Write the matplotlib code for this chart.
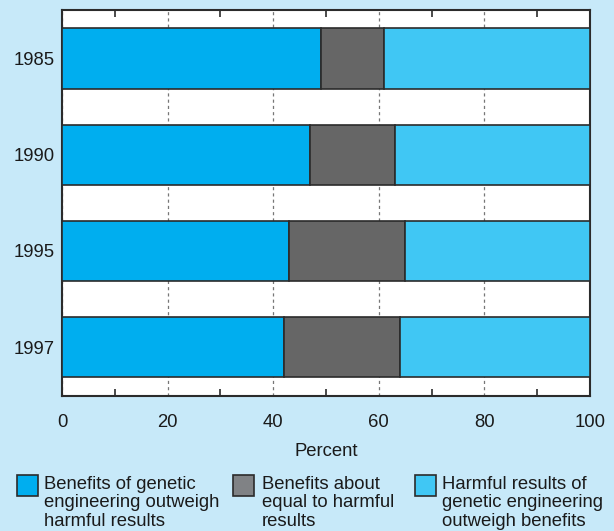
import matplotlib
matplotlib.use('Agg')
import matplotlib.pyplot as plt
from matplotlib.patches import Rectangle
import numpy as np

# data
years = ['1985', '1990', '1995', '1997']
benefitsOutweigh = [49, 47, 43, 42]
aboutEqual = [12, 16, 22, 22]
harmfulOutweigh = [39, 37, 35, 36]

legendLabels = ['Benefits of genetic\nengineering outweigh\nharmful results',
                'Benefits about\nequal to harmful\nresults',
                'Harmful results of\ngenetic engineering\noutweigh benefits']

# config
W, H = 614, 531
bgColor = '#c7e9f9'
barColors = ['#00aeef', '#666666', '#40c7f4']
legendColors = ['#00aeef', '#808285', '#40c7f4']
edge = '#2b2b2b'
fs = 13.3

plt.rcParams['font.family'] = ['Liberation Sans', 'DejaVu Sans']
plt.rcParams['font.size'] = fs

fig = plt.figure(figsize=(W / 100, H / 100), dpi=100, facecolor=bgColor)
ax = fig.add_axes([62 / W, 1 - 395.7 / H, (590 - 62) / W, (395.7 - 10) / H])
ax.set_facecolor('white')

y = np.arange(len(years))
left = np.zeros(len(years))
for vals, col in zip([benefitsOutweigh, aboutEqual, harmfulOutweigh], barColors):
    ax.barh(y, vals, left=left, height=0.627, color=col, edgecolor=edge,
            linewidth=1.2, zorder=3)
    left += np.array(vals)

ax.set_xlim(0, 100)
ax.set_ylim(3.505, -0.505)
ax.set_yticks(y)
ax.set_yticklabels(years)
ax.set_xticks(np.arange(0, 101, 20))
ax.set_xticks(np.arange(10, 100, 20), minor=True)
ax.tick_params(axis='y', length=0, pad=5, labelsize=fs, colors='#1a1a1a')
ax.tick_params(axis='x', which='major', length=0, pad=13, labelsize=fs,
               colors='#1a1a1a')
ax.tick_params(axis='x', which='minor', direction='in', length=5, width=1.2,
               top=True, bottom=True, color='#2b2b2b')
ax.grid(axis='x', which='major', linestyle=(0, (2.5, 2.5)), color='#777777',
        linewidth=0.9, zorder=1)
for s in ax.spines.values():
    s.set_linewidth(1.5)
    s.set_color('#2b2b2b')
ax.set_xlabel('Percent', fontsize=fs, color='#1a1a1a', labelpad=9)

# legend, three boxes under the axis
patchX = [17, 233, 415]
textX = [44, 262, 442]
for px, tx, col, lab in zip(patchX, textX, legendColors, legendLabels):
    fig.add_artist(Rectangle((px / W, 1 - 496 / H), 21 / W, 21 / H,
                             transform=fig.transFigure, facecolor=col,
                             edgecolor=edge, linewidth=1.2))
    fig.text(tx / W, 1 - 476 / H, lab, ha='left', va='top', fontsize=fs,
             linespacing=1.1, color='#1a1a1a')

fig.savefig('out.png', dpi=100, facecolor=bgColor)
